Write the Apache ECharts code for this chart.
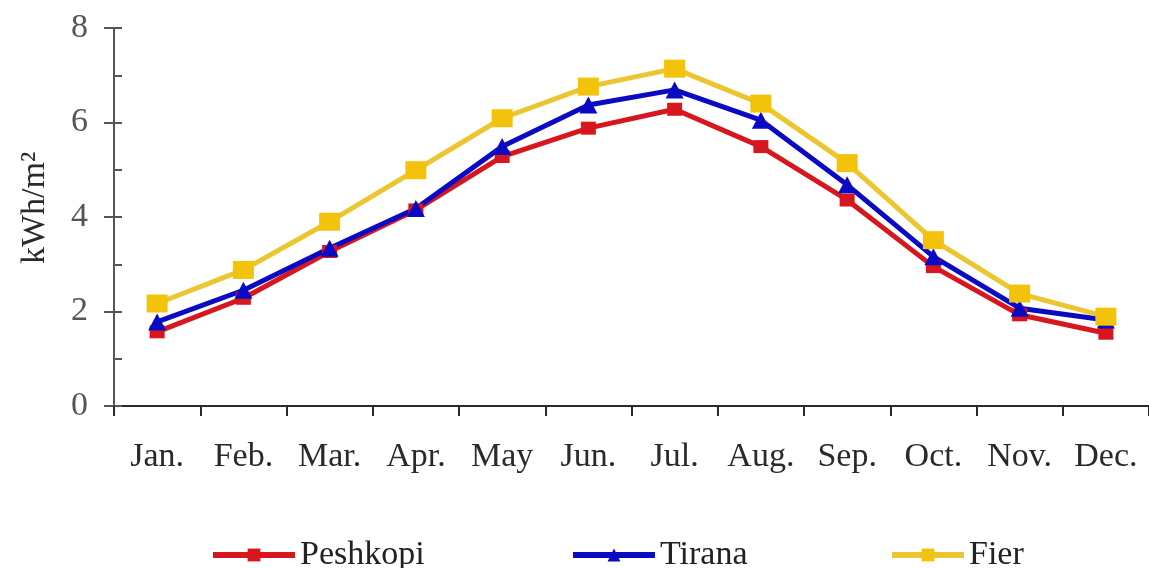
<!DOCTYPE html>
<html>
<head>
<meta charset="utf-8">
<script src="https://cdn.jsdelivr.net/npm/echarts@6/dist/echarts.min.js"></script>
<style>
html,body{margin:0;padding:0;background:#fff;}
#main{width:1149px;height:568px;}
</style>
</head>
<body>
<div id="main"></div>
<script>
var months = ['Jan.', 'Feb.', 'Mar.', 'Apr.', 'May', 'Jun.', 'Jul.', 'Aug.', 'Sep.', 'Oct.', 'Nov.', 'Dec.'];
var peshkopi = [1.57, 2.28, 3.27, 4.15, 5.28, 5.88, 6.28, 5.49, 4.36, 2.95, 1.93, 1.54];
var tirana = [1.78, 2.45, 3.34, 4.18, 5.49, 6.37, 6.69, 6.05, 4.68, 3.16, 2.07, 1.82];
var fier = [2.17, 2.88, 3.90, 4.99, 6.09, 6.76, 7.14, 6.40, 5.14, 3.51, 2.38, 1.89];
var yTicks = [0, 2, 4, 6, 8];

var serif = '"Liberation Serif", "DejaVu Serif", serif';
var chart = echarts.init(document.getElementById('main'));

function legendAt(name, left, w) {
  return {
    data: [name],
    left: left,
    top: 533,
    itemWidth: w,
    itemHeight: 16,
    itemGap: 0,
    lineStyle: {width: 6},
    textStyle: {fontFamily: serif, fontSize: 34, color: '#222'}
  };
}

var yBase = {
  type: 'value',
  min: yTicks[0],
  max: yTicks[yTicks.length - 1],
  interval: 2,
  splitLine: {show: false}
};

chart.setOption({
  backgroundColor: '#fff',
  animation: false,
  grid: {left: 114, right: -5, top: 28, bottom: 162, containLabel: false},
  legend: [legendAt('Peshkopi', 205, 82), legendAt('Tirana', 565, 82), legendAt('Fier', 884, 72)],
  xAxis: {
    type: 'category',
    data: months,
    boundaryGap: true,
    axisLine: {lineStyle: {color: '#2a2a2a', width: 2}},
    axisTick: {show: true, length: 10, interval: 0, lineStyle: {color: '#2a2a2a', width: 2}},
    axisLabel: {fontFamily: serif, fontSize: 34, color: '#2a2a2a', margin: 34, interval: 0, hideOverlap: false}
  },
  yAxis: [
    Object.assign({}, yBase, {
      name: 'kWh/m²',
      nameLocation: 'middle',
      nameGap: 62,
      nameTextStyle: {fontFamily: serif, fontSize: 34, color: '#2a2a2a', padding: [0, 0, 0, 18]},
      axisLine: {show: true, lineStyle: {color: '#555', width: 2}},
      axisTick: {show: true, inside: true, length: 8, lineStyle: {color: '#555', width: 2}},
      minorTick: {show: true, splitNumber: 2, length: 8, lineStyle: {color: '#555', width: 2}},
      axisLabel: {fontFamily: serif, fontSize: 34, color: '#555', margin: 26}
    }),
    Object.assign({}, yBase, {
      position: 'left',
      axisLine: {show: false},
      axisTick: {show: true, inside: false, length: 10, lineStyle: {color: '#555', width: 2}},
      axisLabel: {show: false}
    })
  ],
  series: [
    {
      name: 'Peshkopi', type: 'line', data: peshkopi,
      symbol: 'rect', symbolSize: [15, 13],
      lineStyle: {color: '#d8161e', width: 5},
      itemStyle: {color: '#d8161e'}
    },
    {
      name: 'Tirana', type: 'line', data: tirana,
      symbol: 'triangle', symbolSize: [18, 17],
      lineStyle: {color: '#0a0ac4', width: 5},
      itemStyle: {color: '#0a0ac4'}
    },
    {
      name: 'Fier', type: 'line', data: fier,
      symbol: 'rect', symbolSize: [21, 18],
      lineStyle: {color: '#ecc630', width: 5},
      itemStyle: {color: '#f3c20a'}
    }
  ]
});
</script>
</body>
</html>
